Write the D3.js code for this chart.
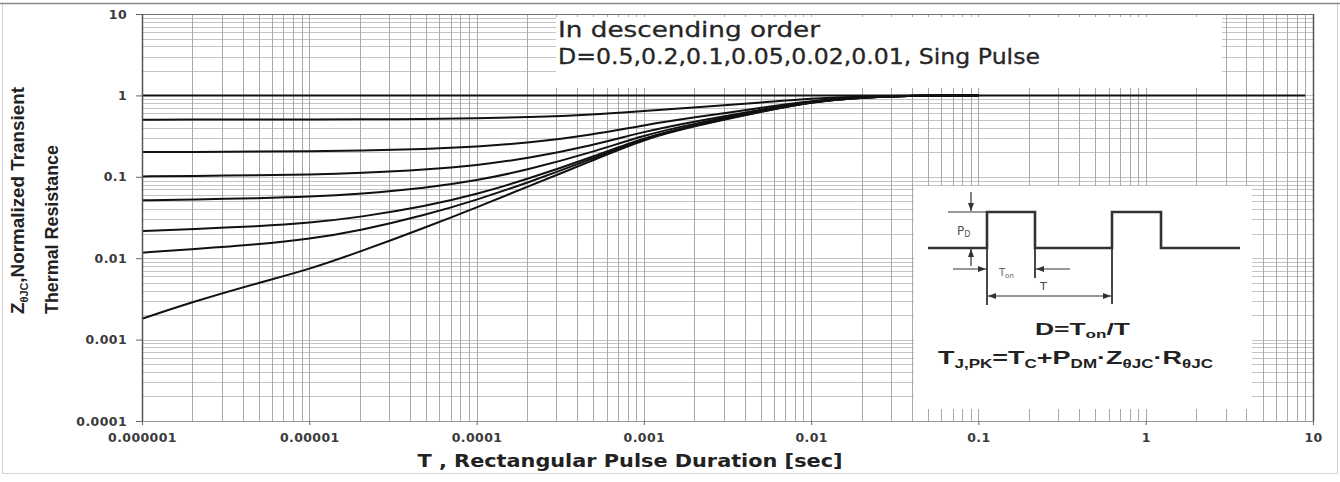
<!DOCTYPE html>
<html><head><meta charset="utf-8">
<script src="https://cdn.jsdelivr.net/npm/d3@7/dist/d3.min.js"></script>
<style>html,body{margin:0;padding:0;background:#fff;} svg{display:block;}</style>
</head><body>
<svg id="chart" width="1340" height="482"></svg>
<script>
// ---------------- data ----------------
const pulseDurations = [1e-6,2e-6,5e-6,1e-5,2e-5,5e-5,1e-4,2e-4,5e-4,1e-3,2e-3,5e-3,1e-2,2e-2,5e-2,1e-1];
const seriesNames = ["D=0.5","D=0.2","D=0.1","D=0.05","D=0.02","D=0.01","Single Pulse"];
const zD050 = [0.503,0.504,0.505,0.506,0.508,0.513,0.521,0.538,0.58,0.645,0.71,0.815,0.915,0.975,0.998,1.0];
const zD020 = [0.201,0.2022,0.2038,0.2058,0.21,0.219,0.234,0.26,0.328,0.432,0.536,0.704,0.864,0.96,0.996,1.0];
const zD010 = [0.101,0.1025,0.1043,0.1065,0.111,0.122,0.138,0.168,0.244,0.36,0.478,0.667,0.848,0.955,0.996,1.0];
const zD005 = [0.0514,0.0527,0.0546,0.0568,0.0615,0.073,0.090,0.121,0.202,0.325,0.45,0.65,0.84,0.953,0.996,1.0];
const zD002 = [0.0216,0.0228,0.0247,0.0272,0.0318,0.0435,0.061,0.093,0.177,0.304,0.43,0.637,0.834,0.951,0.995,1.0];
const zD001 = [0.0117,0.0129,0.0148,0.0172,0.0218,0.034,0.052,0.084,0.168,0.297,0.426,0.634,0.832,0.951,0.995,1.0];
const zSingle = [0.0018,0.0029,0.0050,0.0073,0.012,0.024,0.042,0.075,0.16,0.29,0.42,0.63,0.83,0.95,0.995,1.0];
const unityDurations = [1e-6, 9];
const unityValues = [1, 1];
const xTickValues = [1e-6,1e-5,1e-4,1e-3,1e-2,1e-1,1,10];
const xTickLabels = ["0.000001","0.00001","0.0001","0.001","0.01","0.1","1","10"];
const yTickValues = [1e-4,1e-3,1e-2,1e-1,1,10];
const yTickLabels = ["0.0001","0.001","0.01","0.1","1","10"];

const allSeries = [zD050,zD020,zD010,zD005,zD002,zD001,zSingle];

// ---------------- layout ----------------
const svg = d3.select("#chart");
const L = 142, R = 1313, T = 14, B = 421;
const x = d3.scaleLog().domain([1e-6, 10]).range([L, R]);
const y = d3.scaleLog().domain([1e-4, 10]).range([B, T]);

// outer frame
svg.append("rect").attr("x",2.5).attr("y",3.5).attr("width",1335).attr("height",470)
  .attr("fill","#fff").attr("stroke","#d4d4d4").attr("stroke-width",1);
svg.append("line").attr("x1",0).attr("x2",1340).attr("y1",3.5).attr("y2",3.5)
  .attr("stroke","#8a8a8a").attr("stroke-width",1.5);

// grid
const gx = [], gy = [];
for (let k = -6; k <= 0; k++) for (let m = 1; m <= 9; m++) gx.push(m * Math.pow(10, k));
gx.push(10);
for (let k = -4; k <= 0; k++) for (let m = 1; m <= 9; m++) gy.push(m * Math.pow(10, k));
gy.push(10);

const grid = svg.append("g");
grid.selectAll("line.gy").data(gy).join("line")
  .attr("x1", L).attr("x2", R)
  .attr("y1", d => Math.round(y(d)) + 0.5).attr("y2", d => Math.round(y(d)) + 0.5)
  .attr("stroke", "#c4c4c4").attr("stroke-width", 1);
grid.selectAll("line.gx").data(gx).join("line")
  .attr("y1", T).attr("y2", B)
  .attr("x1", d => Math.round(x(d)) + 0.5).attr("x2", d => Math.round(x(d)) + 0.5)
  .attr("stroke", "#a8a8a8").attr("stroke-width", 1);

// white boxes (legend text area and inset)
svg.append("rect").attr("x",556).attr("y",17).attr("width",666).attr("height",71).attr("fill","#fff");
svg.append("rect").attr("x",914).attr("y",186).attr("width",338).attr("height",223).attr("fill","#fff");

// curves
const line = d3.line().x(d => x(d[0])).y(d => y(d[1])).curve(d3.curveBasis);
svg.append("path").datum(unityDurations.map((t,i)=>[t, unityValues[i]]))
  .attr("d", d3.line().x(d => x(d[0])).y(d => y(d[1]))).attr("fill","none").attr("stroke","#111").attr("stroke-width",2);
svg.selectAll("path.series").data(allSeries).join("path")
  .attr("class","series")
  .attr("d", s => line(pulseDurations.map((t,i)=>[t, s[i]])))
  .attr("fill","none").attr("stroke","#111").attr("stroke-width",2);

// plot frame
svg.append("line").attr("x1",L).attr("x2",R).attr("y1",T+0.5).attr("y2",T+0.5).attr("stroke","#777").attr("stroke-width",1.2);
svg.append("line").attr("x1",R+0.5).attr("x2",R+0.5).attr("y1",T).attr("y2",B).attr("stroke","#555").attr("stroke-width",1.5);
svg.append("line").attr("x1",L).attr("x2",R).attr("y1",B+0.5).attr("y2",B+0.5).attr("stroke","#999").attr("stroke-width",1);
svg.append("line").attr("x1",L+0.5).attr("x2",L+0.5).attr("y1",T).attr("y2",B).attr("stroke","#555").attr("stroke-width",1.5);

// axes
const yAxis = d3.axisLeft(y).tickValues(yTickValues).tickFormat((d,i)=>yTickLabels[i]).tickSize(6).tickPadding(9);
const gY = svg.append("g").attr("transform",`translate(${L},0)`).call(yAxis);
const xAxis = d3.axisBottom(x).tickValues(xTickValues).tickFormat((d,i)=>xTickLabels[i]).tickSize(4).tickPadding(8);
const gX = svg.append("g").attr("transform",`translate(0,${B})`).call(xAxis);
[gX, gY].forEach(g => {
  g.select(".domain").remove();
  g.selectAll(".tick line").attr("stroke","#666");
  g.selectAll(".tick text").attr("font-family","DejaVu Sans, Verdana, sans-serif")
    .attr("font-weight","bold").attr("font-size",12.5).attr("fill","#3a3a3a")
    .attr("letter-spacing","0.4px");
});

// axis titles
svg.append("text").attr("x",630).attr("y",467).attr("text-anchor","middle")
  .attr("font-family","DejaVu Sans, Verdana, sans-serif").attr("font-weight","bold")
  .attr("font-size",17).attr("fill","#222")
  .attr("textLength",425).attr("lengthAdjust","spacingAndGlyphs")
  .text("T , Rectangular Pulse Duration [sec]");

const yt1 = svg.append("text").attr("transform","translate(24,314) rotate(-90)")
  .attr("font-family","Liberation Sans Narrow, Liberation Sans, Arial, sans-serif").attr("font-weight","bold")
  .attr("font-size",19).attr("fill","#222")
  .attr("textLength",227).attr("lengthAdjust","spacingAndGlyphs");
yt1.append("tspan").text("Z");
yt1.append("tspan").attr("font-size",11).attr("dy",4).text("θJC");
yt1.append("tspan").attr("dy",-4).text(",Normalized Transient");
svg.append("text").attr("transform","translate(58,314) rotate(-90)")
  .attr("font-family","Liberation Sans Narrow, Liberation Sans, Arial, sans-serif").attr("font-weight","bold")
  .attr("font-size",19).attr("fill","#222")
  .attr("textLength",169).attr("lengthAdjust","spacingAndGlyphs")
  .text("Thermal Resistance");

// legend text
svg.append("text").attr("x",558).attr("y",37)
  .attr("font-family","DejaVu Sans, Verdana, sans-serif").attr("font-size",21).attr("fill","#262626")
  .attr("stroke","#262626").attr("stroke-width",0.3)
  .attr("textLength",262).attr("lengthAdjust","spacingAndGlyphs")
  .text("In  descending  order");
svg.append("text").attr("x",558).attr("y",64)
  .attr("font-family","DejaVu Sans, Verdana, sans-serif").attr("font-size",21).attr("fill","#262626")
  .attr("stroke","#262626").attr("stroke-width",0.3)
  .attr("textLength",482).attr("lengthAdjust","spacingAndGlyphs")
  .text("D=0.5,0.2,0.1,0.05,0.02,0.01, Sing Pulse");

// ---------------- inset diagram ----------------
const defs = svg.append("defs");
defs.append("marker").attr("id","arr").attr("viewBox","0 0 8 6").attr("refX",8).attr("refY",3)
  .attr("markerWidth",8).attr("markerHeight",6).attr("markerUnits","userSpaceOnUse").attr("orient","auto-start-reverse")
  .append("path").attr("d","M0,0 L8,3 L0,6 Z").attr("fill","#333");

const ins = svg.append("g");
const ink = "#333";
ins.append("path").attr("d","M928,248 H987 V212 H1035 V248 H1112 V212 H1161 V248 H1240")
  .attr("fill","none").attr("stroke",ink).attr("stroke-width",2.6);
ins.append("line").attr("x1",948).attr("x2",987).attr("y1",212).attr("y2",212).attr("stroke",ink).attr("stroke-width",1.2);
ins.append("line").attr("x1",971).attr("x2",971).attr("y1",192).attr("y2",211).attr("stroke",ink).attr("stroke-width",1.2).attr("marker-end","url(#arr)");
ins.append("line").attr("x1",971).attr("x2",971).attr("y1",266).attr("y2",249).attr("stroke",ink).attr("stroke-width",1.2).attr("marker-end","url(#arr)");
ins.append("line").attr("x1",953).attr("x2",986).attr("y1",269).attr("y2",269).attr("stroke",ink).attr("stroke-width",1.2).attr("marker-end","url(#arr)");
ins.append("line").attr("x1",1070).attr("x2",1036).attr("y1",269).attr("y2",269).attr("stroke",ink).attr("stroke-width",1.2).attr("marker-end","url(#arr)");
ins.append("line").attr("x1",988).attr("x2",1111).attr("y1",296).attr("y2",296).attr("stroke",ink).attr("stroke-width",1.2)
  .attr("marker-start","url(#arr)").attr("marker-end","url(#arr)");
ins.append("line").attr("x1",987).attr("x2",987).attr("y1",248).attr("y2",305).attr("stroke",ink).attr("stroke-width",1.8);
ins.append("line").attr("x1",1035).attr("x2",1035).attr("y1",248).attr("y2",278).attr("stroke",ink).attr("stroke-width",1.8);
ins.append("line").attr("x1",1112).attr("x2",1112).attr("y1",248).attr("y2",304).attr("stroke",ink).attr("stroke-width",1.8);

const pd = ins.append("text").attr("x",957).attr("y",235).attr("font-family","DejaVu Sans, sans-serif").attr("font-size",12).attr("fill","#555");
pd.append("tspan").text("P");
pd.append("tspan").attr("font-size",8).attr("dy",2).text("D");
const ton = ins.append("text").attr("x",999).attr("y",276).attr("font-family","DejaVu Sans, sans-serif").attr("font-size",10).attr("fill","#666");
ton.append("tspan").text("T");
ton.append("tspan").attr("font-size",7).attr("dy",2).text("on");
ins.append("text").attr("x",1040).attr("y",290).attr("font-family","DejaVu Sans, sans-serif").attr("font-size",11).attr("fill","#444").text("T");

const f1 = ins.append("text").attr("x",1035).attr("y",335)
  .attr("font-family","Liberation Sans, Arial, sans-serif").attr("font-weight","bold").attr("font-size",17).attr("fill","#222")
  .attr("textLength",95).attr("lengthAdjust","spacingAndGlyphs");
f1.append("tspan").text("D=T");
f1.append("tspan").attr("font-size",11).attr("dy",3).text("on");
f1.append("tspan").attr("dy",-3).text("/T");

const f2 = ins.append("text").attr("x",938).attr("y",364)
  .attr("font-family","Liberation Sans, Arial, sans-serif").attr("font-weight","bold").attr("font-size",19).attr("fill","#222")
  .attr("textLength",275).attr("lengthAdjust","spacingAndGlyphs");
f2.append("tspan").text("T");
f2.append("tspan").attr("font-size",12).attr("dy",4).text("J,PK");
f2.append("tspan").attr("dy",-4).text("=T");
f2.append("tspan").attr("font-size",12).attr("dy",4).text("C");
f2.append("tspan").attr("dy",-4).text("+P");
f2.append("tspan").attr("font-size",12).attr("dy",4).text("DM");
f2.append("tspan").attr("dy",-4).text("·Z");
f2.append("tspan").attr("font-size",12).attr("dy",4).text("θJC");
f2.append("tspan").attr("dy",-4).text("·R");
f2.append("tspan").attr("font-size",12).attr("dy",4).text("θJC");
</script>
</body></html>
